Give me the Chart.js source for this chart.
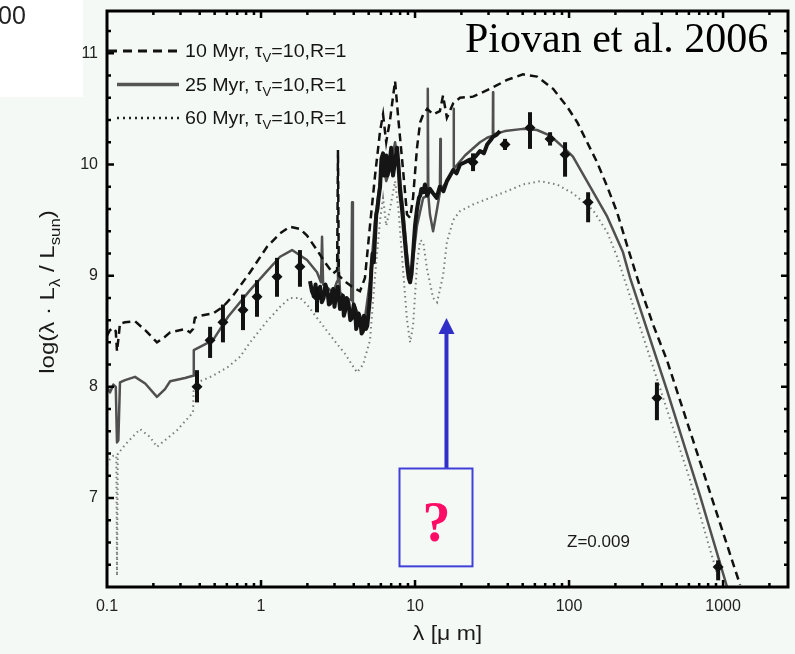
<!DOCTYPE html>
<html>
<head>
<meta charset="utf-8">
<script src="https://cdn.jsdelivr.net/npm/chart.js@4/dist/chart.umd.min.js"></script>
<style>
  html, body { margin: 0; padding: 0; background: #f4f9f6; }
  canvas { display: block; }
</style>
</head>
<body>
<canvas id="sed" width="795" height="654"></canvas>
<script>
// Model SEDs: wavelength in micron, log(lambda L_lambda / L_sun)
const lam10 = [0.1, 0.1045, 0.110, 0.114, 0.1161, 0.119, 0.1214, 0.131, 0.152, 0.177,
  0.211, 0.238, 0.257, 0.321, 0.346, 0.362, 0.372, 0.402, 0.488, 0.566,
  0.658, 0.849, 1.094, 1.33, 1.54, 1.79, 1.99, 2.31, 2.6, 2.94,
  3.12, 3.16, 3.2, 3.5, 3.9, 4.39, 4.73, 5.1, 5.5, 5.93,
  6.2, 6.5, 6.88, 7.42, 7.8, 8.36, 8.87, 9.29, 9.71, 10.3,
  10.8, 11.3, 12.0, 13.1, 14.5, 15.2, 16.1, 17.7, 19.6, 23.8,
  30.7, 39.6, 50.2, 62.0, 78.8, 97.1, 113, 131, 152, 177,
  205, 242, 289, 351, 432, 638, 957, 1289];
const logL10 = [8.46, 8.51, 8.53, 8.50, 8.32, 8.45, 8.57, 8.58, 8.59, 8.51,
  8.40, 8.45, 8.49, 8.52, 8.49, 8.52, 8.62, 8.64, 8.66, 8.72,
  8.82, 9.03, 9.26, 9.38, 9.44, 9.42, 9.36, 9.23, 9.12, 9.02,
  9.05, 10.13, 9.00, 8.95, 8.90, 8.86, 8.98, 9.45, 9.90, 10.30,
  10.45, 10.20, 10.40, 10.75, 10.40, 9.95, 9.55, 9.52, 9.70, 10.15,
  10.38, 10.45, 10.50, 10.45, 10.48, 10.62, 10.42, 10.55, 10.60, 10.61,
  10.68, 10.76, 10.81, 10.79, 10.68, 10.52, 10.38, 10.20, 10.02, 9.80,
  9.57, 9.24, 8.90, 8.56, 8.24, 7.52, 6.77, 6.22];

const lam25 = [0.1, 0.1045, 0.110, 0.114, 0.1161, 0.1185, 0.1214, 0.131, 0.152, 0.177,
  0.211, 0.238, 0.257, 0.321, 0.362, 0.366, 0.402, 0.488, 0.611, 0.849,
  1.094, 1.33, 1.59, 1.99, 2.31, 2.45, 2.49, 2.53, 2.94, 3.12,
  3.16, 3.26, 3.51, 3.85, 3.90, 3.95, 4.39, 4.59, 4.73, 5.1,
  5.5, 5.93, 6.2, 6.5, 6.88, 7.42, 7.8, 8.36, 8.87, 9.29,
  9.71, 10.3, 11.3, 12.0, 12.1, 12.2, 12.5, 13.1, 13.9, 14.5,
  14.6, 14.7, 16.1, 17.7, 17.8, 17.9, 21.1, 26.4, 29.4, 32.0,
  32.1, 32.2, 38.4, 50.2, 62.0, 75.3, 94.2, 106, 137, 177,
  224, 249, 432, 709, 1062];
const logL25 = [8.00, 7.95, 8.02, 8.00, 7.50, 7.52, 8.04, 8.06, 8.09, 8.03,
  7.91, 7.98, 8.05, 8.08, 8.10, 8.33, 8.36, 8.42, 8.63, 8.87,
  9.04, 9.17, 9.23, 9.14, 9.03, 8.94, 9.35, 8.92, 8.85, 8.95,
  9.20, 8.85, 8.80, 8.78, 9.66, 8.76, 8.62, 8.58, 8.62, 8.95,
  9.50, 9.85, 10.02, 9.85, 9.95, 10.20, 10.00, 9.60, 9.20, 8.96,
  9.15, 9.45, 9.70, 9.72, 10.68, 9.72, 9.55, 9.40, 9.60, 9.75,
  10.23, 9.77, 9.85, 9.95, 10.50, 9.96, 10.08, 10.20, 10.24, 10.26,
  10.65, 10.27, 10.30, 10.32, 10.31, 10.26, 10.14, 10.07, 9.80, 9.53,
  9.21, 8.98, 7.97, 7.02, 6.20];

const lam60 = [0.1, 0.1045, 0.110, 0.1150, 0.1161, 0.1175, 0.1214, 0.131, 0.164, 0.190,
  0.211, 0.238, 0.285, 0.362, 0.366, 0.402, 0.488, 0.611, 0.731, 0.849,
  1.094, 1.33, 1.54, 1.79, 1.99, 2.31, 2.94, 3.5, 4.20, 4.6,
  5.10, 5.5, 5.93, 6.2, 6.5, 6.88, 7.42, 7.8, 8.36, 8.87,
  9.29, 9.71, 10.3, 10.8, 11.3, 12.0, 13.1, 13.9, 15.2, 16.1,
  17.7, 19.6, 23.8, 30.7, 39.6, 50.2, 64.9, 83.6, 106, 143,
  177, 205, 351, 611, 914];
const logL60 = [7.30, 7.35, 7.38, 7.38, 6.30, 7.40, 7.42, 7.48, 7.62, 7.55,
  7.46, 7.52, 7.61, 7.77, 8.02, 8.05, 8.10, 8.18, 8.27, 8.40,
  8.59, 8.72, 8.80, 8.80, 8.74, 8.62, 8.43, 8.30, 8.13, 8.20,
  8.42, 9.00, 9.50, 9.70, 9.45, 9.60, 9.85, 9.60, 9.05, 8.60,
  8.40, 8.55, 9.10, 9.32, 9.30, 9.05, 8.80, 8.76, 9.00, 9.30,
  9.50, 9.58, 9.64, 9.70, 9.76, 9.82, 9.85, 9.82, 9.74, 9.59,
  9.39, 9.17, 8.18, 7.16, 6.32];

// Observed near/mid-infrared spectrum
const lamObs = [2.08, 2.14, 2.2, 2.26, 2.31, 2.36, 2.42, 2.48, 2.55, 2.62,
  2.7, 2.76, 2.81, 2.88, 2.94, 3.0, 3.05, 3.15, 3.26, 3.33,
  3.4, 3.45, 3.51, 3.6, 3.7, 3.8, 3.9, 4.0, 4.08, 4.15,
  4.2, 4.3, 4.39, 4.5, 4.59, 4.66, 4.73, 4.8, 4.9, 5.0,
  5.1, 5.2, 5.3, 5.4, 5.5, 5.6, 5.7, 5.8, 5.93, 6.05,
  6.2, 6.3, 6.38, 6.5, 6.6, 6.75, 6.88, 7.0, 7.2, 7.4,
  7.64, 7.8, 8.0, 8.2, 8.36, 8.61, 8.87, 9.1, 9.29, 9.5,
  9.71, 10.0, 10.3, 10.6, 10.8, 11.0, 11.3, 11.6, 12.0, 12.5,
  13.1, 13.8, 14.5, 15.3, 16.1, 16.9, 17.7, 18.6, 19.6, 21.1,
  22.4, 23.8, 25.0, 26.4, 28.0, 29.4, 31.0, 32.1, 34.0, 35.6];
const logLObs = [8.95, 8.86, 8.82, 8.92, 8.78, 8.84, 8.90, 8.76, 8.80, 8.92,
  8.86, 8.74, 8.75, 8.84, 8.88, 8.72, 8.80, 8.90, 8.70, 8.78,
  8.82, 8.64, 8.68, 8.80, 8.75, 8.60, 8.62, 8.74, 8.70, 8.52,
  8.55, 8.66, 8.62, 8.48, 8.50, 8.64, 8.60, 8.52, 8.55, 8.68,
  8.80, 9.05, 9.20, 9.12, 9.35, 9.55, 9.60, 9.70, 9.80, 10.05,
  10.10, 9.90, 10.00, 10.08, 9.90, 9.95, 10.05, 10.15, 9.90, 10.02,
  10.15, 10.0, 9.75, 9.62, 9.50, 9.30, 9.10, 8.98, 8.94, 9.02,
  9.20, 9.45, 9.60, 9.70, 9.72, 9.78, 9.75, 9.82, 9.72, 9.78,
  9.74, 9.70, 9.80, 9.76, 9.85, 9.90, 9.95, 9.92, 10.00, 10.02,
  10.04, 10.05, 10.08, 10.12, 10.10, 10.18, 10.22, 10.25, 10.27, 10.30];

// Broad-band photometry with error bars
const lamPhot  = [0.384, 0.467, 0.566, 0.764, 0.942, 1.27, 1.79, 2.31, 23.8, 38.4, 55.8, 75.3, 94.2, 133, 372, 929];
const logLPhot = [8.00, 8.42, 8.58, 8.69, 8.81, 8.99, 9.08, 8.81, 10.02, 10.18, 10.33, 10.23, 10.09, 9.66, 7.90, 6.38];
const errUp    = [0.15, 0.12, 0.16, 0.14, 0.15, 0.17, 0.15, 0.09, 0.08, 0.05, 0.14, 0.06, 0.11, 0.09, 0.14, 0.06];
const errDown  = [0.14, 0.16, 0.18, 0.18, 0.18, 0.18, 0.18, 0.14, 0.08, 0.05, 0.19, 0.06, 0.20, 0.18, 0.20, 0.12];

// Axis ticks
const xTicks = [0.1, 1, 10, 100, 1000];
const yTicks = [7, 8, 9, 10, 11];
const legendAges = ['10 Myr', '25 Myr', '60 Myr'];

const SANS = '"Liberation Sans", Arial, Helvetica, sans-serif';
const SERIF = '"Liberation Serif", "Times New Roman", serif';

const pts = (xs, ys) => xs.map((v, i) => ({ x: v, y: ys[i] }));

// text with subscript runs: parts = [[text, isSub], ...]; hs stretches horizontally
function richText(ctx, parts, x, y, size, align, hs = 1) {
  let w = 0;
  parts.forEach(([t, sub]) => {
    ctx.font = (sub ? Math.round(size * 0.68) : size) + 'px ' + SANS;
    w += ctx.measureText(t).width * hs;
  });
  let cx = align === 'center' ? x - w / 2 : x;
  parts.forEach(([t, sub]) => {
    ctx.font = (sub ? Math.round(size * 0.68) : size) + 'px ' + SANS;
    ctx.save();
    ctx.translate(cx, sub ? y + size * 0.3 : y);
    ctx.scale(hs, 1);
    ctx.fillText(t, 0, 0);
    ctx.restore();
    cx += ctx.measureText(t).width * hs;
  });
}

const legendStyles = [
  { color: '#111', width: 3, dash: [9, 6], x0: 108 },
  { color: '#555', width: 3.5, dash: [], x0: 117 },
  { color: '#222', width: 2.5, dash: [2, 4], x0: 117 }
];

const sedDecor = {
  id: 'sedDecor',
  beforeDraw(chart) {
    const { ctx, width, height } = chart;
    ctx.save();
    ctx.fillStyle = '#f4f9f6';
    ctx.fillRect(0, 0, width, height);
    ctx.fillStyle = '#ffffff';
    ctx.fillRect(0, 0, 83, 97);
    ctx.fillStyle = '#222';
    ctx.font = '25px ' + SANS;
    ctx.textBaseline = 'alphabetic';
    ctx.fillText('00', -2, 24);
    ctx.restore();
  },
  afterDatasetsDraw(chart) {
    const { ctx, chartArea: a, scales: { x, y } } = chart;
    ctx.save();

    // error bars
    ctx.strokeStyle = '#111';
    ctx.lineWidth = 4;
    lamPhot.forEach((l, i) => {
      const px = x.getPixelForValue(l);
      ctx.beginPath();
      ctx.moveTo(px, y.getPixelForValue(logLPhot[i] + errUp[i]));
      ctx.lineTo(px, y.getPixelForValue(logLPhot[i] - errDown[i]));
      ctx.stroke();
    });

    // frame
    ctx.strokeStyle = '#000';
    ctx.lineWidth = 3;
    ctx.strokeRect(a.left, a.top, a.right - a.left, a.bottom - a.top);

    // inward tick marks on all four sides
    ctx.lineWidth = 2.5;
    const tickX = (v, len) => {
      const px = x.getPixelForValue(v);
      if (px < a.left + 2 || px > a.right - 2) return;
      ctx.beginPath();
      ctx.moveTo(px, a.bottom); ctx.lineTo(px, a.bottom - len);
      ctx.moveTo(px, a.top); ctx.lineTo(px, a.top + len);
      ctx.stroke();
    };
    for (let d = 0.1; d < 3000; d *= 10) {
      tickX(d, 7);
      for (let k = 2; k <= 9; k++) tickX(d * k, 4);
    }
    const tickY = (v, len) => {
      const py = y.getPixelForValue(v);
      if (py < a.top + 2 || py > a.bottom - 2) return;
      ctx.beginPath();
      ctx.moveTo(a.left, py); ctx.lineTo(a.left + len, py);
      ctx.moveTo(a.right, py); ctx.lineTo(a.right - len, py);
      ctx.stroke();
    };
    for (let s = 32; s <= 57; s++) {
      tickY(s / 5, s % 5 === 0 ? 7 : 4);
    }

    // legend
    chart.data.datasets.slice(2).forEach((ds, i) => {
      const st = legendStyles[i];
      const yy = 51 + i * 33.5;
      ctx.strokeStyle = st.color;
      ctx.lineWidth = st.width;
      ctx.setLineDash(st.dash);
      ctx.beginPath();
      ctx.moveTo(st.x0, yy);
      ctx.lineTo(179, yy);
      ctx.stroke();
      ctx.setLineDash([]);
      ctx.fillStyle = '#161616';
      ctx.textBaseline = 'alphabetic';
      richText(ctx, [[legendAges[i] + ', \u03c4', false], ['V', true], ['=10,R=1', false]], 185, yy + 6, 18, 'left', 1.09);
    });

    // citation
    ctx.fillStyle = '#000';
    ctx.font = '42px ' + SERIF;
    ctx.fillText('Piovan et al. 2006', 465, 52);

    // metallicity
    ctx.fillStyle = '#1a1a1a';
    ctx.font = '17px ' + SANS;
    ctx.fillText('Z=0.009', 567, 547);

    // arrow towards the mid-infrared region
    const ax = x.getPixelForValue(16);
    const tipY = y.getPixelForValue(8.62);
    const boxTop = y.getPixelForValue(7.27);
    const boxBot = y.getPixelForValue(6.39);
    ctx.strokeStyle = '#3030c8';
    ctx.fillStyle = '#3030c8';
    ctx.lineWidth = 4;
    ctx.beginPath();
    ctx.moveTo(ax, boxTop);
    ctx.lineTo(ax, tipY + 14);
    ctx.stroke();
    ctx.beginPath();
    ctx.moveTo(ax, tipY);
    ctx.lineTo(ax - 8, tipY + 16);
    ctx.lineTo(ax + 8, tipY + 16);
    ctx.closePath();
    ctx.fill();
    ctx.strokeStyle = '#4040d8';
    ctx.lineWidth = 2;
    ctx.strokeRect(Math.round(ax) - 46.5, Math.round(boxTop) + 0.5, 73, boxBot - boxTop);
    ctx.fillStyle = '#ff0a64';
    ctx.font = 'bold 56px ' + SERIF;
    ctx.textAlign = 'center';
    ctx.fillText('?', ax - 10, boxTop + 73);
    ctx.textAlign = 'left';

    // axis titles
    ctx.fillStyle = '#1a1a1a';
    richText(ctx, [['\u03bb [\u03bc m]', false]], (a.left + a.right) / 2, 640, 20, 'center', 1.15);
    ctx.translate(54, 292);
    ctx.rotate(-Math.PI / 2);
    richText(ctx, [['log(\u03bb \u00b7 L', false], ['\u03bb', true], [' / L', false], ['sun', true], [')', false]], 0, 0, 20, 'center', 1.2);

    ctx.restore();
  }
};

new Chart(document.getElementById('sed'), {
  type: 'line',
  data: {
    datasets: [
      {
        label: 'photometry',
        data: pts(lamPhot, logLPhot),
        showLine: false,
        pointStyle: 'rectRot',
        pointRadius: 5.5,
        pointBackgroundColor: '#111',
        pointBorderWidth: 0,
        borderColor: '#111'
      },
      {
        label: 'observed spectrum',
        data: pts(lamObs, logLObs),
        borderColor: '#151515',
        borderWidth: 4,
        pointRadius: 0,
        borderJoinStyle: 'round'
      },
      {
        label: '10 Myr',
        data: pts(lam10, logL10),
        borderColor: '#111',
        borderWidth: 2.5,
        borderDash: [8, 5],
        pointRadius: 0
      },
      {
        label: '25 Myr',
        data: pts(lam25, logL25),
        borderColor: '#505050',
        borderWidth: 2.5,
        pointRadius: 0,
        borderJoinStyle: 'round'
      },
      {
        label: '60 Myr',
        data: pts(lam60, logL60),
        borderColor: '#7c7c7c',
        borderWidth: 2,
        borderDash: [1.5, 3.5],
        pointRadius: 0
      }
    ]
  },
  options: {
    responsive: false,
    animation: false,
    devicePixelRatio: 1,
    layout: { padding: { left: 0, right: 7, top: 11, bottom: 0 } },
    plugins: { legend: { display: false }, tooltip: { enabled: false } },
    scales: {
      x: {
        type: 'logarithmic',
        min: 0.1,
        max: 2640,
        grid: { display: false, drawTicks: false },
        border: { display: false },
        afterBuildTicks: s => { s.ticks = xTicks.map(v => ({ value: v })); },
        afterFit: s => { s.height = 67; s.paddingLeft = 0; s.paddingRight = 0; },
        ticks: {
          padding: 10,
          color: '#222',
          font: { family: SANS, size: 16 },
          maxRotation: 0,
          autoSkip: false,
          callback: v => String(v)
        }
      },
      y: {
        type: 'linear',
        min: 6.2,
        max: 11.38,
        grid: { display: false, drawTicks: false },
        border: { display: false },
        afterBuildTicks: s => { s.ticks = yTicks.map(v => ({ value: v })); },
        afterFit: s => { s.width = 107; s.paddingTop = 0; s.paddingBottom = 0; },
        ticks: {
          padding: 9,
          color: '#222',
          font: { family: SANS, size: 16 },
          callback: v => String(v)
        }
      }
    }
  },
  plugins: [sedDecor]
});
</script>
</body>
</html>
